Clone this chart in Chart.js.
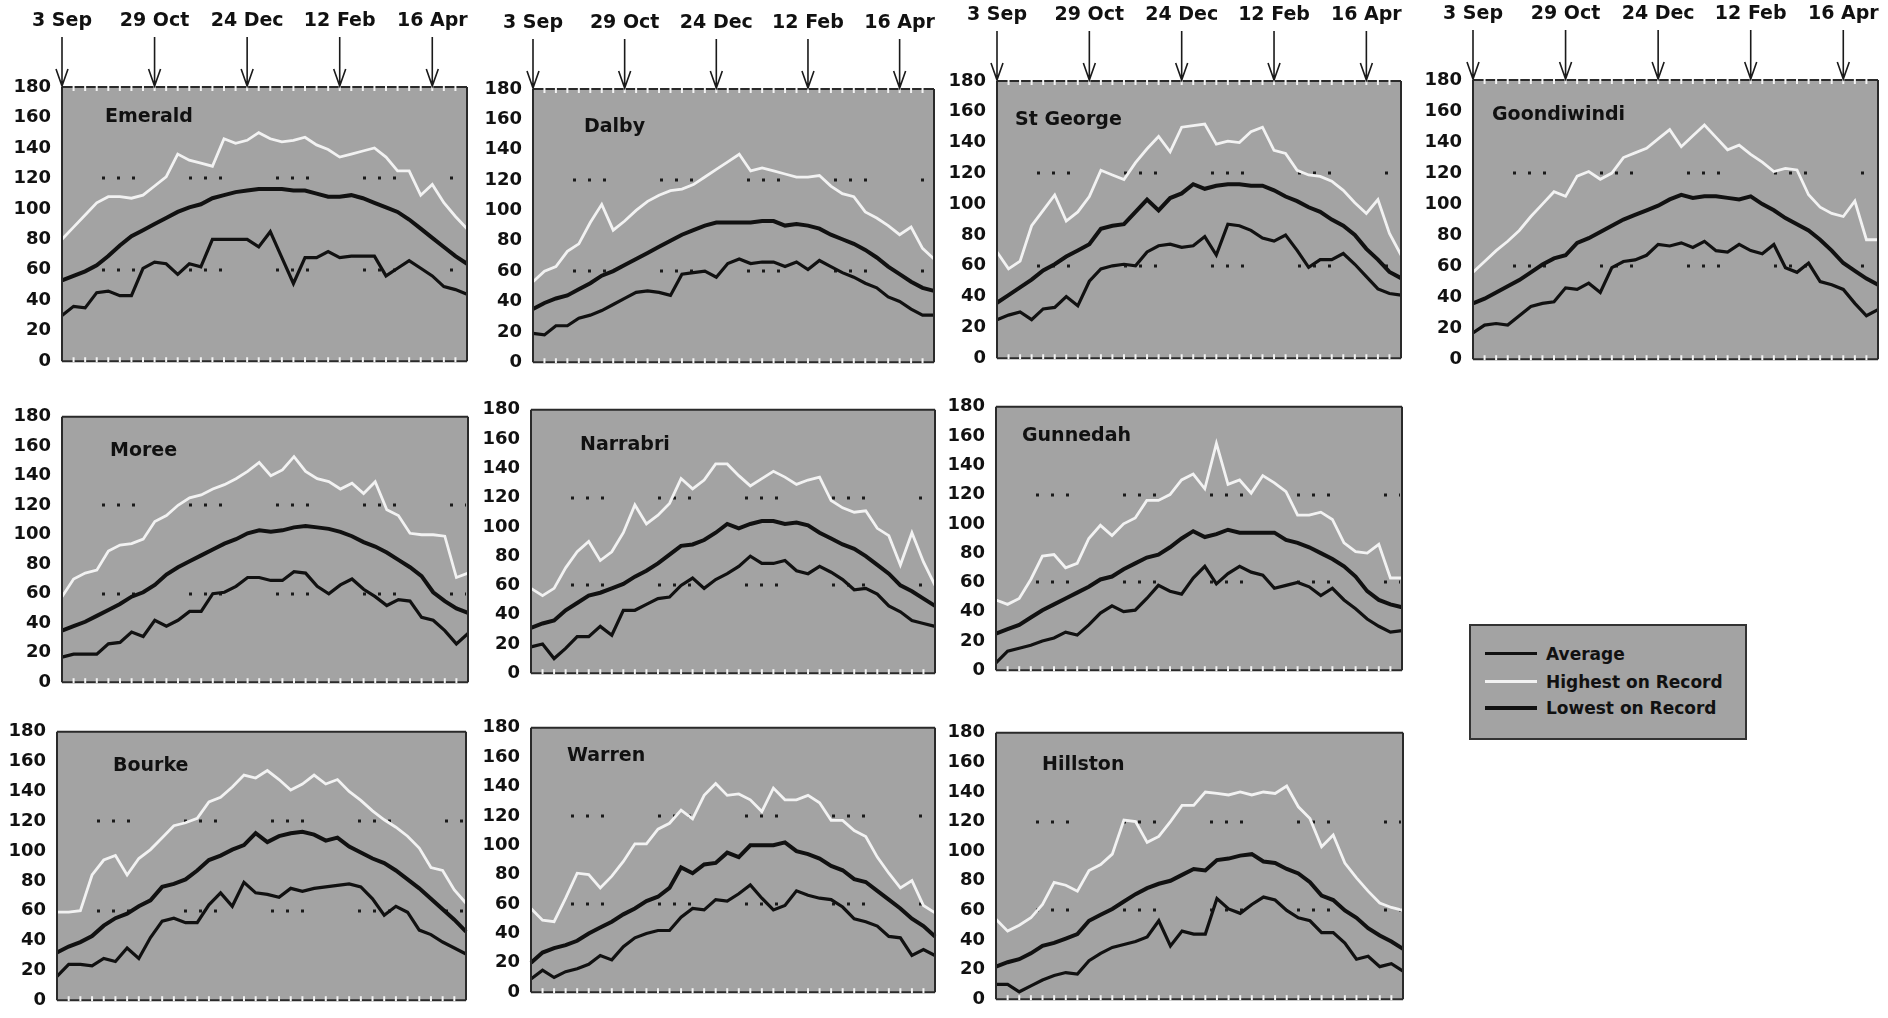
<!DOCTYPE html>
<html>
<head>
<meta charset="utf-8">
<script src="https://cdn.jsdelivr.net/npm/chart.js@4.4.1/dist/chart.umd.min.js"></script>
<style>
  body { margin: 0; background: #fff; width: 1888px; height: 1018px; overflow: hidden; position: relative; }
  canvas { position: absolute; }
  #legend { position: absolute; left: 1469px; top: 624px; width: 274px; height: 112px; background: #a3a3a3; border: 2px solid #333; font: bold 17px "DejaVu Sans", sans-serif; color: #111; }
  #legend .row { position: absolute; left: 14px; height: 20px; line-height: 20px; }
  #legend .sample { position: absolute; left: 0; width: 52px; }
  #legend .label { position: absolute; left: 61px; white-space: nowrap; }
</style>
</head>
<body>
<div id="legend">
  <div class="row" style="top:18px"><div class="sample" style="top:8px;height:3px;background:#111"></div><span class="label">Average</span></div>
  <div class="row" style="top:46px"><div class="sample" style="top:8px;height:3px;background:#f2f2f2"></div><span class="label">Highest on Record</span></div>
  <div class="row" style="top:72px"><div class="sample" style="top:8px;height:4px;background:#111"></div><span class="label">Lowest on Record</span></div>
</div>
<script>
// 36 points per season, markers at these indices
const dateMarks = ['3 Sep', '29 Oct', '24 Dec', '12 Feb', '16 Apr'];
const markWeeks = [0, 8, 16, 24, 32];

const emeraldAvg = [53,56,59,63,69,76,82,86,90,94,98,101,103,107,109,111,112,113,113,113,112,112,110,108,108,109,107,104,101,98,93,87,81,75,69,64];
const emeraldHigh = [80,88,96,104,108,108,107,109,115,121,136,132,130,128,146,143,145,150,146,144,145,147,142,139,134,136,138,140,134,125,125,109,116,104,95,87];
const emeraldLow = [30,36,35,45,46,43,43,61,65,64,57,64,62,80,80,80,80,75,85,68,51,68,68,72,68,69,69,69,56,61,66,61,56,49,47,44];

const dalbyAvg = [35,39,42,44,48,52,57,60,64,68,72,76,80,84,87,90,92,92,92,92,93,93,90,91,90,88,84,81,78,74,69,63,58,53,49,47];
const dalbyHigh = [53,60,63,73,78,92,104,87,93,100,106,110,113,114,117,122,127,132,137,126,128,126,124,122,122,123,116,111,109,99,95,90,84,89,75,68];
const dalbyLow = [19,18,24,24,29,31,34,38,42,46,47,46,44,58,59,60,56,65,68,65,66,66,63,66,61,67,63,59,56,52,49,43,40,35,31,31];

const stGeorgeAvg = [36,41,46,51,57,61,66,70,74,84,86,87,95,103,96,104,107,113,110,112,113,113,112,112,109,105,102,98,95,90,86,80,71,64,56,52];
const stGeorgeHigh = [69,58,63,86,96,106,89,95,105,122,119,116,127,136,144,134,150,151,152,139,141,140,147,150,135,133,122,119,118,115,109,101,94,103,81,67];
const stGeorgeLow = [25,28,30,25,32,33,40,34,50,58,60,61,60,69,73,74,72,73,79,67,87,86,83,78,76,80,70,59,64,64,68,61,53,45,42,41];

const goondiwindiAvg = [36,39,43,47,51,56,61,65,67,75,78,82,86,90,93,96,99,103,106,104,105,105,104,103,105,100,96,91,87,83,77,70,62,57,52,48];
const goondiwindiHigh = [56,63,70,76,83,92,100,108,105,118,121,116,120,130,133,136,142,148,137,144,151,143,135,138,132,127,121,123,122,106,98,94,92,102,77,77];
const goondiwindiLow = [17,22,23,22,28,34,36,37,46,45,49,43,59,63,64,67,74,73,75,72,76,70,69,74,70,68,74,59,56,62,50,48,45,36,28,32];

const moreeAvg = [35,38,41,45,49,53,58,61,66,73,78,82,86,90,94,97,101,103,102,103,105,106,105,104,102,99,95,92,88,83,78,72,61,55,50,47];
const moreeHigh = [58,70,74,76,89,93,94,97,109,113,120,125,127,131,134,138,143,149,140,144,153,143,138,136,131,135,128,136,117,113,101,100,100,99,71,74];
const moreeLow = [17,19,19,19,26,27,34,31,42,38,42,48,48,60,61,65,71,71,69,69,75,74,65,60,66,70,63,58,52,56,55,44,42,35,26,33];

const narrabriAvg = [31,34,36,43,48,53,55,58,61,66,70,75,81,87,88,91,96,102,99,102,104,104,102,103,101,96,92,88,85,80,74,68,60,56,51,46];
const narrabriHigh = [58,53,58,72,83,90,77,83,96,115,102,108,116,133,126,132,143,143,135,128,133,138,134,129,132,134,118,113,110,111,99,94,74,96,76,60];
const narrabriLow = [18,20,10,17,25,25,32,26,43,43,47,51,52,60,65,58,64,68,73,80,75,75,77,70,68,73,69,64,57,58,54,46,42,36,34,32];

const gunnedahAvg = [25,28,31,36,41,45,49,53,57,62,64,69,73,77,79,84,90,95,91,93,96,94,94,94,94,89,87,84,80,76,71,64,54,48,45,43];
const gunnedahHigh = [48,45,49,62,78,79,70,73,90,99,92,100,104,116,116,120,130,134,124,155,127,130,121,133,128,122,106,106,108,103,87,81,80,86,63,63];
const gunnedahLow = [5,13,15,17,20,22,26,24,31,39,44,40,41,49,58,54,52,63,71,59,66,71,67,65,56,58,60,57,51,56,48,42,35,30,26,27];

const bourkeAvg = [32,36,39,43,50,55,58,63,67,76,78,81,87,94,97,101,104,112,106,110,112,113,111,107,109,103,99,95,92,87,81,75,68,61,54,46];
const bourkeHigh = [59,59,60,84,94,97,84,95,101,109,117,119,122,133,136,143,151,149,154,148,141,145,151,145,148,140,134,127,121,116,110,102,89,87,74,65];
const bourkeLow = [16,24,24,23,28,26,35,28,42,53,55,52,52,64,72,63,79,72,71,69,75,73,75,76,77,78,76,68,57,63,59,47,44,39,35,31];

const warrenAvg = [20,27,30,32,35,40,44,48,53,57,62,65,71,85,81,87,88,95,92,100,100,100,102,96,94,91,86,83,77,75,69,63,57,50,45,38];
const warrenHigh = [57,49,48,64,81,80,71,79,89,101,101,111,115,124,118,134,142,134,135,131,123,139,131,131,134,129,117,117,110,106,92,81,71,76,59,54];
const warrenLow = [9,15,10,14,16,19,25,22,31,37,40,42,42,51,57,56,63,62,67,73,64,56,59,69,66,64,63,58,50,48,45,38,37,25,29,25];

const hillstonAvg = [22,25,27,31,36,38,41,44,53,57,61,66,71,75,78,80,84,88,87,94,95,97,98,93,92,88,85,79,70,67,60,55,48,43,39,34];
const hillstonHigh = [54,46,50,55,64,79,77,73,87,91,98,121,120,106,110,120,131,131,140,139,138,140,138,140,139,144,130,122,103,111,92,82,73,65,62,60];
const hillstonLow = [10,10,5,9,13,16,18,17,26,31,35,37,39,42,53,36,46,44,44,68,61,58,64,69,67,60,55,53,45,45,38,27,29,22,24,19];

const weekLabels = emeraldAvg.map((_, i) => String(i));

// plot box [left, top, right, bottom] on the page, title offset inside the plot
const panels = [
  { name: 'Emerald', avg: emeraldAvg, high: emeraldHigh, low: emeraldLow, box: [62, 87, 467, 369], title: [43, 30], arrows: true },
  { name: 'Dalby', avg: dalbyAvg, high: dalbyHigh, low: dalbyLow, box: [533, 89, 934, 370], title: [51, 38], arrows: true },
  { name: 'St George', avg: stGeorgeAvg, high: stGeorgeHigh, low: stGeorgeLow, box: [997, 81, 1401, 366], title: [18, 39], arrows: true },
  { name: 'Goondiwindi', avg: goondiwindiAvg, high: goondiwindiHigh, low: goondiwindiLow, box: [1473, 80, 1878, 367], title: [19, 35], arrows: true },
  { name: 'Moree', avg: moreeAvg, high: moreeHigh, low: moreeLow, box: [62, 409, 468, 690], title: [48, 34] },
  { name: 'Narrabri', avg: narrabriAvg, high: narrabriHigh, low: narrabriLow, box: [531, 402, 935, 681], title: [49, 35] },
  { name: 'Gunnedah', avg: gunnedahAvg, high: gunnedahHigh, low: gunnedahLow, box: [996, 399, 1402, 678], title: [26, 29] },
  { name: 'Bourke', avg: bourkeAvg, high: bourkeHigh, low: bourkeLow, box: [57, 724, 466, 1008], title: [56, 34] },
  { name: 'Warren', avg: warrenAvg, high: warrenHigh, low: warrenLow, box: [531, 720, 935, 1000], title: [36, 28] },
  { name: 'Hillston', avg: hillstonAvg, high: hillstonHigh, low: hillstonLow, box: [996, 725, 1403, 1007], title: [46, 32] }
];

const AXIS_W = 62;
const FONT = '"DejaVu Sans", sans-serif';

// gray plot area, dotted 60/120 lines, frame, title and the date arrows
const panelDecor = {
  id: 'panelDecor',
  beforeDatasetsDraw(chart) {
    const { ctx, chartArea: a, scales: { y } } = chart;
    ctx.save();
    ctx.fillStyle = '#a3a3a3';
    ctx.fillRect(a.left, a.top, a.right - a.left, a.bottom - a.top);
    ctx.strokeStyle = '#1a1a1a';
    ctx.lineWidth = 3;
    ctx.setLineDash([3, 12, 3, 12, 3, 54]);
    [60, 120].forEach(v => {
      const py = Math.round(y.getPixelForValue(v));
      ctx.beginPath();
      ctx.moveTo(a.left + 40, py);
      ctx.lineTo(a.right - 2, py);
      ctx.stroke();
    });
    ctx.restore();
  },
  afterDatasetsDraw(chart, args, opts) {
    const { ctx, chartArea: a, scales: { x } } = chart;
    ctx.save();
    // sides
    ctx.strokeStyle = '#2a2a2a';
    ctx.lineWidth = 2;
    ctx.beginPath();
    ctx.moveTo(a.left, a.top); ctx.lineTo(a.left, a.bottom);
    ctx.moveTo(a.right, a.top); ctx.lineTo(a.right, a.bottom);
    ctx.moveTo(a.left, a.top); ctx.lineTo(a.right, a.top);
    ctx.moveTo(a.left, a.bottom); ctx.lineTo(a.right, a.bottom);
    ctx.stroke();
    // white comb ticks on the bottom edge (and top for the first row)
    ctx.strokeStyle = '#f4f4f4';
    ctx.lineWidth = 2;
    for (let i = 1; i < weekLabels.length - 1; i++) {
      const px = x.getPixelForValue(i);
      ctx.beginPath();
      ctx.moveTo(px, a.bottom + 1); ctx.lineTo(px, a.bottom - 4);
      if (opts.arrows) { ctx.moveTo(px, a.top - 1); ctx.lineTo(px, a.top + 4); }
      ctx.stroke();
    }
    // station name
    ctx.fillStyle = '#111';
    ctx.font = 'bold 19px ' + FONT;
    ctx.textAlign = 'left';
    ctx.textBaseline = 'middle';
    ctx.fillText(opts.title, a.left + opts.dx, a.top + opts.dy);
    // date arrows
    if (opts.arrows) {
      ctx.strokeStyle = '#1a1a1a';
      ctx.lineWidth = 1.6;
      ctx.textAlign = 'center';
      markWeeks.forEach((w, k) => {
        const px = x.getPixelForValue(w);
        ctx.beginPath();
        ctx.moveTo(px, a.top - 50); ctx.lineTo(px, a.top - 1);
        ctx.moveTo(px - 6, a.top - 18); ctx.lineTo(px, a.top - 1); ctx.lineTo(px + 6, a.top - 18);
        ctx.stroke();
        ctx.fillText(dateMarks[k], px, a.top - 66);
      });
    }
    ctx.restore();
  }
};

panels.forEach(p => {
  const [l, t, r, b] = p.box;
  const padTop = p.arrows ? t : 14;
  const canvas = document.createElement('canvas');
  canvas.width = (r - l) + AXIS_W + 8;
  canvas.height = (b - t) + padTop + 14;
  canvas.style.left = (l - AXIS_W) + 'px';
  canvas.style.top = (t - padTop) + 'px';
  document.body.appendChild(canvas);

  new Chart(canvas, {
    type: 'line',
    data: {
      labels: weekLabels,
      datasets: [
        { label: 'Average', data: p.avg, borderColor: '#111', borderWidth: 4 },
        { label: 'Highest on Record', data: p.high, borderColor: '#f2f2f2', borderWidth: 2.8 },
        { label: 'Lowest on Record', data: p.low, borderColor: '#111', borderWidth: 3.2 }
      ]
    },
    options: {
      responsive: false,
      animation: false,
      events: [],
      elements: { point: { radius: 0 }, line: { tension: 0, borderJoinStyle: 'miter' } },
      layout: { padding: { top: padTop, bottom: 14, left: 0, right: 8 } },
      plugins: {
        legend: { display: false },
        tooltip: { enabled: false },
        panelDecor: { title: p.name, dx: p.title[0], dy: p.title[1], arrows: !!p.arrows }
      },
      scales: {
        x: { type: 'category', display: false, offset: false },
        y: {
          min: 0,
          max: 180,
          afterFit(scale) { scale.width = AXIS_W; },
          grid: { display: false, drawTicks: false },
          border: { display: false },
          ticks: { stepSize: 20, padding: 11, color: '#111', font: { family: FONT, weight: 'bold', size: 18 } }
        }
      }
    },
    plugins: [panelDecor]
  });
});
</script>
</body>
</html>
